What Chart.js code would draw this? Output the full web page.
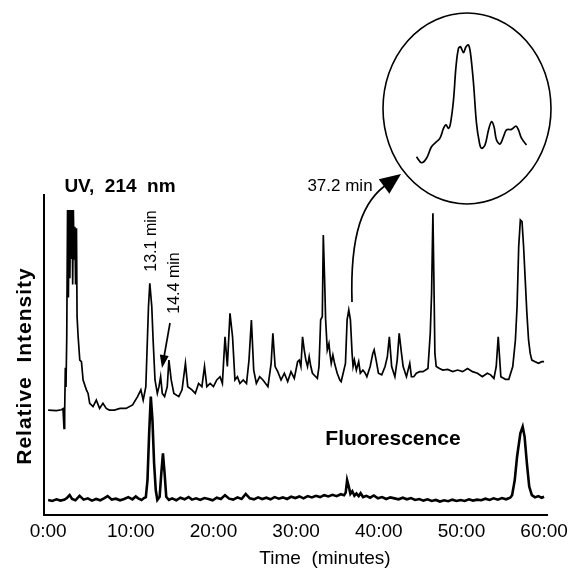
<!DOCTYPE html>
<html lang="en">
<head>
  <meta charset="UTF-8" />
  <title>UV and fluorescence chromatogram</title>
  <script src="https://cdn.jsdelivr.net/npm/chart.js"></script>
  <style>
    body {
      margin: 0;
      background-color: #ffffff;
    }

    .wrap {
      position: relative;
      width: 573px;
      height: 569px;
    }

    #mainChart {
      position: absolute;
      left: 0;
      top: 0;
    }

    #insetChart {
      position: absolute;
      left: 382px;
      top: 12px;
    }
  </style>
</head>
<body>
  <div class="wrap">
    <canvas id="mainChart" width="573" height="569"></canvas>
    <canvas id="insetChart" width="170" height="193"></canvas>
  </div>

  <script>
    const FONT = "'Liberation Sans', Arial, Helvetica, sans-serif";

    // x axis ticks (minutes)
    const tickMinutes = [0, 10, 20, 30, 40, 50, 60];
    const tickLabels = ["0:00", "10:00", "20:00", "30:00", "40:00", "50:00", "60:00"];

    // UV 214 nm trace
    const uvTimes = [
      0, 1.0, 1.6, 1.8, 1.92, 2.0, 2.08, 2.16, 2.25, 2.35,
      2.45, 2.55, 2.63, 2.72, 2.8, 2.9, 2.97, 3.05, 3.15, 3.23,
      3.32, 3.43, 3.5, 3.63, 3.83, 4.03, 4.23, 4.45, 4.63, 4.83,
      5.03, 5.43, 5.83, 6.23, 6.63, 7.03, 7.4, 8.02, 8.7, 9.42,
      10.22, 10.82, 11.22, 11.5, 11.82, 12.14, 12.3, 12.54, 12.7, 12.93,
      13.21, 13.41, 13.61, 13.81, 14.09, 14.41, 14.61, 14.89, 15.21, 15.81,
      16.2, 16.61, 16.89, 17.4, 17.8, 18.2, 18.6, 18.92, 19.2, 19.6,
      20.0, 20.4, 20.8, 21.08, 21.4, 21.68, 22.0, 22.31, 22.6, 22.9,
      23.2, 23.6, 24.0, 24.3, 24.59, 24.87, 25.19, 25.59, 25.99, 26.59,
      26.98, 27.19, 27.46, 27.78, 28.18, 28.58, 28.98, 29.38, 29.78, 30.18,
      30.38, 30.58, 30.78, 30.98, 31.18, 31.38, 31.58, 31.78, 31.98, 32.38,
      32.57, 32.77, 32.97, 33.17, 33.29, 33.45, 33.57, 33.77, 33.97, 34.09,
      34.25, 34.45, 34.65, 34.97, 35.29, 35.45, 35.69, 35.97, 36.17, 36.37,
      36.57, 36.77, 36.89, 37.05, 37.29, 37.57, 37.77, 38.08, 38.36, 38.56,
      38.96, 39.28, 39.44, 39.68, 39.96, 40.36, 40.76, 41.04, 41.28, 41.56,
      41.95, 42.23, 42.47, 42.75, 42.95, 43.35, 43.75, 43.95, 44.23, 44.55,
      44.95, 45.35, 45.95, 46.23, 46.39, 46.55, 46.67, 46.79, 46.95, 47.35,
      47.74, 48.34, 48.94, 49.54, 50.14, 50.74, 51.34, 51.94, 52.53, 53.13,
      53.53, 53.93, 54.21, 54.45, 54.61, 54.77, 55.33, 55.73, 56.21, 56.53,
      56.73, 56.93, 57.13, 57.33, 57.52, 57.72, 57.92, 58.12, 58.32, 58.52,
      58.92, 59.32, 59.72, 60.0
    ];
    const uvSignal = [
      32.8, 32.6, 32.9, 33.2, 27.1, 32.0, 46.0, 40.0, 55.0, 95.3,
      68.0, 95.3, 74.0, 95.3, 80.0, 95.3, 72.0, 95.3, 80.0, 90.1,
      72.0, 89.6, 62.0, 55.7, 48.4, 47.9, 42.2, 40.5, 39.1, 38.0,
      34.9, 33.9, 35.9, 33.3, 34.9, 33.3, 32.8, 32.8, 33.3, 33.3,
      34.4, 37.0, 39.1, 35.9, 40.1, 65.1, 72.4, 65.1, 54.7, 42.2,
      38.0, 40.1, 43.2, 38.0, 37.0, 40.1, 48.4, 42.2, 38.0, 37.0,
      39.1, 47.4, 40.1, 39.1, 38.0, 41.1, 40.1, 46.4, 40.1, 41.1,
      40.1, 42.2, 43.2, 41.1, 55.7, 46.4, 63.0, 55.7, 42.2, 43.2,
      41.1, 42.2, 41.1, 48.4, 60.9, 45.3, 41.1, 43.2, 42.2, 40.1,
      47.4, 56.8, 46.4, 44.8, 42.2, 44.3, 41.7, 44.8, 42.7, 47.9,
      48.4, 46.4, 55.7, 51.6, 48.4, 46.4, 49.5, 46.4, 44.3, 43.2,
      42.7, 46.4, 61.0, 62.0, 87.5, 73.4, 61.0, 51.6, 53.6, 50.5,
      47.4, 50.0, 47.4, 44.3, 42.2, 41.7, 44.3, 47.4, 61.0, 64.1,
      61.0, 50.5, 46.4, 48.4, 45.3, 47.9, 44.3, 45.3, 44.3, 43.2,
      46.4, 50.5, 51.6, 48.4, 44.3, 43.8, 46.4, 49.5, 55.7, 46.4,
      43.2, 48.4, 56.8, 50.5, 46.4, 43.2, 47.4, 43.2, 43.2, 44.3,
      44.8, 44.8, 45.8, 56.8, 69.3, 94.3, 73.4, 50.5, 46.4, 45.8,
      45.3, 45.5, 44.8, 45.3, 44.8, 45.8, 44.8, 44.3, 43.2, 44.3,
      43.8, 42.7, 46.4, 55.7, 49.5, 43.2, 42.4, 42.4, 46.4, 54.7,
      65.1, 83.9, 92.2, 91.7, 83.9, 73.4, 63.0, 54.7, 50.5, 48.4,
      47.9, 47.4, 47.9, 47.9
    ];

    // fluorescence trace
    const flTimes = [
      0, 0.5, 1, 1.5, 2, 2.3, 2.6, 2.9, 3.3, 3.8,
      4.3, 4.8, 5.3, 5.8, 6.3, 6.8, 7.2, 7.7, 8.2, 8.7,
      9.2, 9.7, 10.2, 10.6, 10.9, 11.3, 11.6, 11.82, 12.02, 12.22,
      12.42, 12.62, 12.82, 13.02, 13.21, 13.49, 13.69, 13.89, 14.09, 14.29,
      14.61, 15.0, 15.5, 16.0, 16.5, 17.0, 17.4, 17.9, 18.4, 18.9,
      19.4, 19.9, 20.4, 20.9, 21.4, 21.9, 22.4, 22.9, 23.4, 23.9,
      24.4, 24.9, 25.4, 25.9, 26.4, 26.9, 27.4, 27.9, 28.4, 28.9,
      29.4, 29.9, 30.4, 30.9, 31.4, 31.9, 32.4, 32.9, 33.4, 33.9,
      34.4, 34.9, 35.4, 35.8, 36.0, 36.17, 36.37, 36.57, 36.8, 37.05,
      37.3, 37.57, 37.8, 38.1, 38.5, 38.96, 39.4, 39.9, 40.4, 40.9,
      41.4, 41.9, 42.4, 42.9, 43.4, 43.9, 44.4, 44.9, 45.4, 45.9,
      46.4, 46.9, 47.4, 47.9, 48.4, 48.9, 49.4, 49.9, 50.4, 50.9,
      51.4, 51.9, 52.4, 52.9, 53.4, 53.9, 54.4, 54.9, 55.4, 55.9,
      56.13, 56.45, 56.73, 57.13, 57.41, 57.64, 57.92, 58.2, 58.52, 58.9,
      59.3, 59.7, 60.0
    ];
    const flSignal = [
      4.7, 4.4, 4.9, 4.5, 4.8, 5.4, 6.2, 5.0, 4.6, 6.0,
      4.8, 5.2, 4.5, 5.0, 4.6, 5.3, 5.9, 4.8, 5.1, 4.6,
      5.0, 5.6, 4.9, 5.8, 5.2, 4.7, 5.3, 5.6, 10.9, 25.5,
      37.0, 29.7, 16.1, 7.8, 4.7, 5.7, 13.0, 19.3, 13.0, 5.7,
      4.7, 5.2, 4.6, 5.4, 4.9, 5.6, 4.8, 5.2, 4.7, 5.3,
      5.0, 4.6, 5.4, 5.0, 6.2, 5.1, 4.8, 5.5, 5.0, 6.6,
      5.2, 4.9, 5.5, 5.0, 5.4, 4.9, 5.6, 5.1, 5.5, 5.0,
      5.7, 5.3, 5.8, 5.2, 5.9, 5.5, 6.0, 5.6, 6.2, 5.8,
      6.3, 5.9, 6.5, 6.2, 7.0, 10.9, 8.9, 6.6, 7.4, 6.0,
      6.7, 5.9, 6.8, 5.6, 6.0, 5.4, 6.1, 5.2, 5.6, 5.0,
      5.5, 5.2, 4.9, 5.4, 4.9, 5.3, 4.7, 5.0, 4.5, 4.9,
      4.4, 4.7, 4.2, 4.6, 4.3, 4.8, 4.4, 4.7, 4.4, 4.9,
      4.5, 4.8, 4.6, 5.1, 4.7, 5.2, 4.8, 5.3, 4.9, 5.4,
      6.2, 10.9, 18.2, 25.5, 27.6, 24.5, 16.1, 8.9, 6.2, 5.5,
      5.9, 5.4, 5.7
    ];

    // enlarged 37.2 min peak (inset)
    const insetTimes = [
      35.69, 35.79, 35.89, 35.99, 36.09, 36.16, 36.23, 36.28, 36.33, 36.37,
      36.43, 36.48, 36.53, 36.57, 36.63, 36.68, 36.73, 36.77, 36.83, 36.89,
      36.95, 36.99, 37.06, 37.13, 37.19, 37.24, 37.29, 37.36, 37.43, 37.49,
      37.59, 37.68, 37.73, 37.79, 37.89
    ];
    const insetSignal = [
      25.0, 21.9, 24.2, 30.2, 32.8, 34.6, 39.7, 41.5, 39.7, 42.3,
      54.4, 71.7, 81.2, 82.0, 78.9, 82.0, 82.9, 78.6, 63.1, 42.3,
      32.0, 29.4, 31.1, 38.9, 43.2, 40.6, 33.7, 31.6, 35.4, 38.9,
      39.2, 40.9, 38.9, 34.6, 31.1
    ];

    function toPoints(xs, ys) {
      return xs.map((x, i) => ({ x: x, y: ys[i] }));
    }

    function arrowHead(ctx, fromX, fromY, tipX, tipY, len, half) {
      const a = Math.atan2(tipY - fromY, tipX - fromX);
      const bx = tipX - len * Math.cos(a);
      const by = tipY - len * Math.sin(a);
      ctx.beginPath();
      ctx.moveTo(tipX, tipY);
      ctx.lineTo(bx + half * Math.sin(a), by - half * Math.cos(a));
      ctx.lineTo(bx - half * Math.sin(a), by + half * Math.cos(a));
      ctx.closePath();
      ctx.fill();
    }

    function vText(ctx, text, x, y) {
      ctx.save();
      ctx.translate(x, y);
      ctx.rotate(-Math.PI / 2);
      ctx.fillText(text, 0, 0);
      ctx.restore();
    }

    // labels, arrows and axis titles
    const notesPlugin = {
      id: "notes",
      afterDraw(chart) {
        const ctx = chart.ctx;
        ctx.save();
        ctx.fillStyle = "#000";
        ctx.strokeStyle = "#000";
        ctx.textAlign = "center";
        ctx.textBaseline = "middle";

        ctx.font = "19px " + FONT;
        ctx.fillText("Time  (minutes)", 325, 559);

        ctx.font = "bold 21px " + FONT;
        ctx.letterSpacing = "1px";
        vText(ctx, "Relative  Intensity", 25, 366);
        ctx.letterSpacing = "0px";

        ctx.font = "bold 19px " + FONT;
        ctx.fillText("UV,  214  nm", 120, 187);

        ctx.font = "bold 21px " + FONT;
        ctx.fillText("Fluorescence", 393, 439);

        ctx.font = "16px " + FONT;
        vText(ctx, "13.1 min", 152, 241);
        vText(ctx, "14.4 min", 175, 283);

        ctx.font = "17px " + FONT;
        ctx.fillText("37.2 min", 340, 186);

        // arrow to the 14.4 min peak
        ctx.lineWidth = 1.7;
        ctx.beginPath();
        ctx.moveTo(170, 323);
        ctx.lineTo(164, 357);
        ctx.stroke();
        arrowHead(ctx, 170, 323, 162, 368, 13, 4.5);

        // curved arrow from the 37.2 min peak to the inset
        ctx.beginPath();
        ctx.moveTo(352, 302);
        ctx.bezierCurveTo(350, 235, 362, 200, 389, 183);
        ctx.stroke();
        arrowHead(ctx, 386, 185, 401, 174, 21, 9);

        ctx.restore();
      }
    };

    const ellipsePlugin = {
      id: "ellipse",
      afterDraw(chart) {
        const ctx = chart.ctx;
        const w = chart.width;
        const h = chart.height;
        ctx.save();
        ctx.strokeStyle = "#000";
        ctx.lineWidth = 1.6;
        ctx.beginPath();
        ctx.ellipse(w / 2, h / 2, w / 2 - 1, h / 2 - 1, 0, 0, Math.PI * 2);
        ctx.stroke();
        ctx.restore();
      }
    };

    new Chart(document.getElementById("mainChart"), {
      type: "line",
      data: {
        datasets: [
          {
            label: "UV, 214 nm",
            data: toPoints(uvTimes, uvSignal),
            borderColor: "#000",
            borderWidth: 1.7,
            pointRadius: 0,
            tension: 0,
            fill: false
          },
          {
            label: "Fluorescence",
            data: toPoints(flTimes, flSignal),
            borderColor: "#000",
            borderWidth: 2.6,
            pointRadius: 0,
            tension: 0,
            fill: false
          }
        ]
      },
      options: {
        responsive: false,
        animation: false,
        layout: {
          padding: { top: 195, right: 21, left: 0, bottom: 0 }
        },
        plugins: {
          legend: { display: false },
          tooltip: { enabled: false }
        },
        scales: {
          x: {
            type: "linear",
            min: -0.5,
            max: 60.4,
            grid: { display: false, drawTicks: false },
            border: { display: true, color: "#000", width: 2 },
            afterBuildTicks: scale => {
              scale.ticks = tickMinutes.map(v => ({ value: v }));
            },
            afterFit: scale => {
              scale.height = 54;
            },
            ticks: {
              padding: 5,
              color: "#000",
              font: { family: FONT, size: 19 },
              maxRotation: 0,
              callback: value => tickLabels[tickMinutes.indexOf(value)]
            }
          },
          y: {
            min: 0,
            max: 100,
            grid: { display: false, drawTicks: false },
            border: { display: true, color: "#000", width: 2 },
            ticks: { display: false },
            afterFit: scale => {
              scale.width = 44;
            }
          }
        }
      },
      plugins: [notesPlugin]
    });

    new Chart(document.getElementById("insetChart"), {
      type: "line",
      data: {
        datasets: [
          {
            label: "37.2 min (enlarged)",
            data: toPoints(insetTimes, insetSignal),
            borderColor: "#000",
            borderWidth: 1.7,
            pointRadius: 0,
            tension: 0.35,
            fill: false
          }
        ]
      },
      options: {
        responsive: false,
        animation: false,
        layout: { padding: 0 },
        plugins: {
          legend: { display: false },
          tooltip: { enabled: false }
        },
        scales: {
          x: { type: "linear", min: 35.0, max: 38.4, display: false },
          y: { min: 0, max: 100, display: false }
        }
      },
      plugins: [ellipsePlugin]
    });
  </script>
</body>
</html>
